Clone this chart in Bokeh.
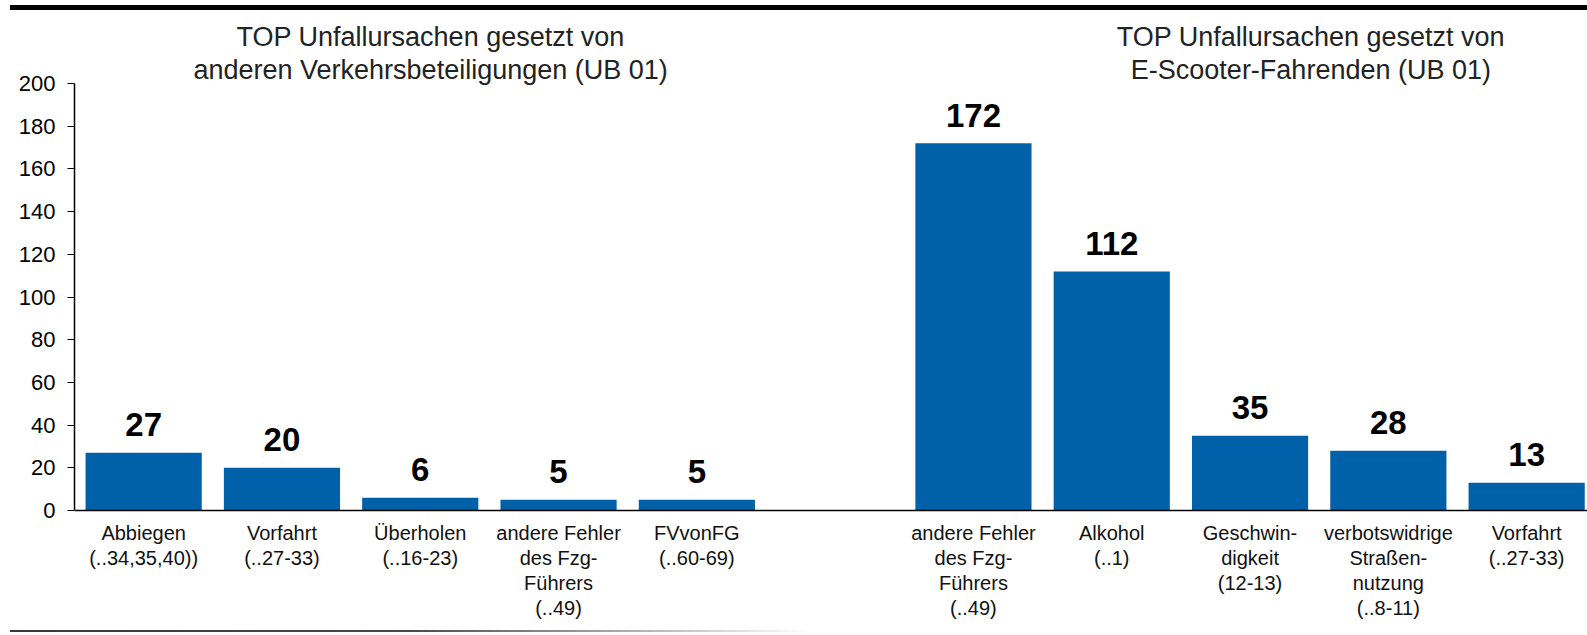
from bokeh.plotting import figure
from bokeh.layouts import column
from bokeh.models import FixedTicker, ColumnDataSource, Range1d, Div
from bokeh.core.properties import value
from bokeh.embed import file_html
from bokeh.resources import INLINE

# ---- data ----
left_categories = ["Abbiegen\n(..34,35,40))", "Vorfahrt\n(..27-33)", "Überholen\n(..16-23)",
                   "andere Fehler\ndes Fzg-\nFührers\n(..49)", "FVvonFG\n(..60-69)"]
left_values = [27, 20, 6, 5, 5]
right_categories = ["andere Fehler\ndes Fzg-\nFührers\n(..49)", "Alkohol\n(..1)", "Geschwin-\ndigkeit\n(12-13)",
                    "verbotswidrige\nStraßen-\nnutzung\n(..8-11)", "Vorfahrt\n(..27-33)"]
right_values = [172, 112, 35, 28, 13]
left_title = ["TOP Unfallursachen gesetzt von", "anderen Verkehrsbeteiligungen (UB 01)"]
right_title = ["TOP Unfallursachen gesetzt von", "E-Scooter-Fahrenden (UB 01)"]
y_ticks = list(range(0, 201, 20))

FONT = "Liberation Sans"
BAR_COLOR = "#0060a8"
W = 1587

# slot positions: left group, one empty slot, right group
left_x = list(range(len(left_values)))
right_x = [len(left_values) + 1 + i for i in range(len(right_values))]
xs = left_x + right_x
vals = left_values + right_values
labels = left_categories + right_categories

# ---- main chart ----
MAIN_H = 612
BOTTOM = 114
Y_TOP = 233.3
px_per_unit = (MAIN_H - BOTTOM) / Y_TOP
label_gap = 28 / px_per_unit

src = ColumnDataSource(dict(x=xs, top=vals, txt=[str(v) for v in vals],
                            ty=[v + label_gap for v in vals]))

p = figure(width=W, height=MAIN_H,
           x_range=Range1d(-0.5, 10.44), y_range=Range1d(0, Y_TOP),
           output_backend="svg", toolbar_location=None,
           min_border_left=74, min_border_right=0, min_border_top=0, min_border_bottom=BOTTOM)
p.outline_line_color = None
p.xgrid.visible = False
p.ygrid.visible = False

p.vbar(x="x", top="top", width=0.84, source=src, fill_color=BAR_COLOR, line_color=None)
p.text(x="x", y="ty", text="txt", source=src, text_font=value(FONT), text_font_style="bold",
       text_font_size="33px", text_align="center", text_baseline="alphabetic", text_color="black")

# titles
tsrc = ColumnDataSource(dict(
    x=[2.075, 2.075, 8.44, 8.44],
    y=[222.0, 206.5, 222.0, 206.5],
    t=left_title + right_title))
p.text(x="x", y="y", text="t", source=tsrc, text_font=value(FONT), text_font_size="27px",
       text_align="center", text_baseline="alphabetic", text_color="#222222")

# y axis
ya = p.yaxis[0]
ya.ticker = FixedTicker(ticks=y_ticks)
ya.bounds = (0, 200)
ya.minor_tick_line_color = None
ya.major_tick_in = 0
ya.major_tick_out = 7
ya.major_tick_line_color = "black"
ya.axis_line_color = "black"
ya.axis_line_width = 1.5
ya.major_label_text_font = FONT
ya.major_label_text_font_size = "22px"
ya.major_label_text_color = "black"
ya.major_label_standoff = 12

# x axis
xa = p.xaxis[0]
xa.ticker = FixedTicker(ticks=xs)
xa.major_label_overrides = {x: lab for x, lab in zip(xs, labels)}
xa.minor_tick_line_color = None
xa.major_tick_in = 0
xa.major_tick_out = 0
xa.axis_line_color = "black"
xa.axis_line_width = 1.5
xa.major_label_text_font = FONT
xa.major_label_text_font_size = "20px"
xa.major_label_text_color = "#111111"
xa.major_label_text_line_height = 1.15
xa.major_label_standoff = 11

# ---- decorative rules ----
top_rule = Div(
    text='<div style="position:relative;width:%dpx;height:12px;">'
         '<div style="position:absolute;left:10px;top:5px;width:%dpx;height:5px;background:#000000;"></div>'
         '</div>' % (W, W - 10),
    width=W, height=12, margin=(0, 0, 0, 0))
bottom_rule = Div(
    text='<div style="position:relative;width:%dpx;height:11px;">'
         '<div style="position:absolute;left:10px;top:5px;width:800px;height:2px;'
         'background-color:#404040;'
         'background-image:linear-gradient(to right,#383838 0%%,#4a4a4a 50%%,#ffffff 100%%);"></div>'
         '</div>' % W,
    width=W, height=11, margin=(0, 0, 0, 0))

layout = column(top_rule, p, bottom_rule, spacing=0)
open("out.html", "w").write(file_html(layout, INLINE))
